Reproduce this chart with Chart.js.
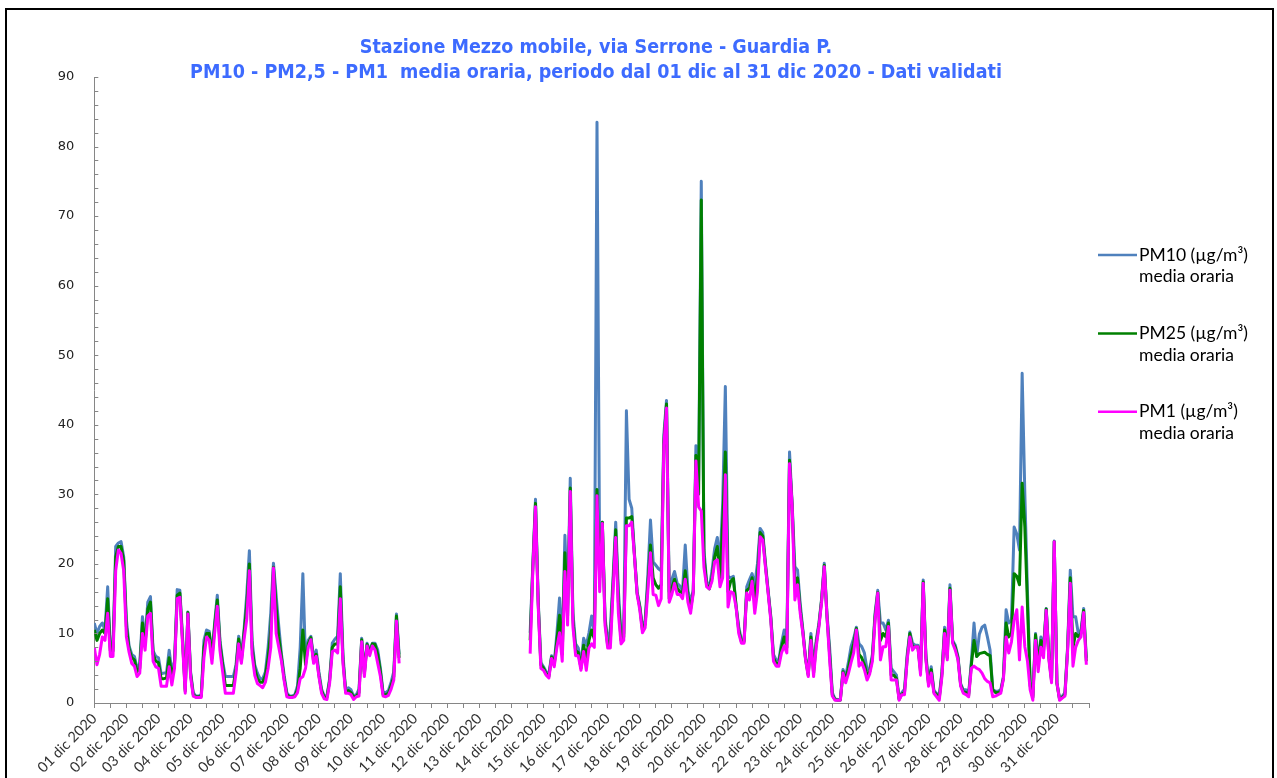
<!DOCTYPE html>
<html><head><meta charset="utf-8">
<script src="https://cdn.jsdelivr.net/npm/chart.js@4/dist/chart.umd.min.js"></script>
<style>
html,body{margin:0;padding:0;background:#fff;overflow:hidden}
#wrap{position:relative;width:1277px;height:778px}
#frame{position:absolute;left:5px;top:8px;width:1269px;height:820px;border:2px solid #000;box-sizing:border-box;pointer-events:none}
canvas{position:absolute;left:0;top:0}
</style></head><body>
<div id="wrap"><canvas id="c" width="1277" height="778"></canvas><div id="frame"></div></div>
<script>
const N = null;
const titleLines = ['Stazione Mezzo mobile, via Serrone - Guardia P.',
  'PM10 - PM2,5 - PM1  media oraria, periodo dal 01 dic al 31 dic 2020 - Dati validati'];
const dayLabels = ['01 dic 2020','02 dic 2020','03 dic 2020','04 dic 2020','05 dic 2020','06 dic 2020','07 dic 2020','08 dic 2020','09 dic 2020','10 dic 2020','11 dic 2020','12 dic 2020','13 dic 2020','14 dic 2020','15 dic 2020','16 dic 2020','17 dic 2020','18 dic 2020','19 dic 2020','20 dic 2020','21 dic 2020','22 dic 2020','23 dic 2020','24 dic 2020','25 dic 2020','26 dic 2020','27 dic 2020','28 dic 2020','29 dic 2020','30 dic 2020','31 dic 2020'];
const seriesNames = ['PM10 (µg/m³)','PM25 (µg/m³)','PM1 (µg/m³)'];
const seriesSub = 'media oraria';
const seriesColors = ['#4F81BD','#008000','#FF00FF'];
// values every 2 hours (12 per day), from 01 dic 00:00
const pm10 = [
11.5,10,11,11.5,10.5,16.7,8,8,22.5,23,23.2,21,
12,8.2,7,6.7,5,5.7,12.4,9,14.5,15.3,7.5,6.7,
6.5,4.2,4.3,4.3,7.6,4.5,6,16.3,16.2,9.5,2,13.1,
4.5,1.5,1,1,1.2,9,10.5,10.3,7,11.5,15.5,9,
6,3.8,3.8,3.8,3.8,5.5,9.6,6.5,10.5,15.5,21.9,9,
5.5,4.3,3.5,3.5,4.5,8,13,20.1,15.5,11,7,4,
1.5,1,1,1.2,2.5,8,18.6,6,9,9.6,6.5,7.6,
4.5,2,1,1,3.5,8.6,9.2,9.6,18.6,7,1.8,2.2,
1.9,1,1.2,2,9.3,4.5,8.6,7.6,8.6,8.6,7.6,5,
1.5,1.5,1.8,3,4.5,12.8,7,N,N,N,N,N,
N,N,N,N,N,N,N,N,N,N,N,N,
N,N,N,N,N,N,N,N,N,N,N,N,
N,N,N,N,N,N,N,N,N,N,N,N,
N,N,N,N,N,N,N,10.1,20,29.3,15,5.8,
5.2,4.5,4.1,6.8,5.7,10,15.1,8,24.1,14,32.3,13,
8.5,7.9,5.5,9.3,8.3,10.1,12.5,10.1,83.5,20,26,12.5,
8.5,10.7,18,26,16.2,10,10,42,29.3,28,21.5,16,
14,11,11.8,18.3,26.3,20.3,19.8,19.3,19,38.6,43.5,16,
17.8,18.9,17.2,16.8,16.2,22.7,16.2,14.5,16.2,37,32,75,
22,17.5,16.5,19,22.2,23.8,20,28.7,45.5,18.2,18,18.2,
14,11,9.1,9,16.7,17.7,18.6,17,20,25.1,24.5,20.1,
16.2,12.5,7,6.2,6.2,8.6,10.5,9,36.1,28.5,19.6,19.1,
14.3,10.5,6.5,4.2,10,5,9.1,11.5,15,20.1,12.9,8,
1.5,0.6,0.5,0.5,4.8,3.8,5.8,8.1,9.3,10.9,8.5,8.1,
7.2,4.8,5,7,13,16.2,11.5,11.5,10.5,11.9,5,4.5,
4,0.6,1.5,2,7,10.2,8.6,8.3,8.3,5,17.7,7,
3,5.2,1.8,1.4,1,4.5,10.9,7,17,9,8.3,6.7,
2.8,1.9,1.9,1.4,6,11.5,6.7,9.9,10.9,11.2,9.5,7.6,
1.9,1.7,1.7,1.9,3.8,13.4,11.5,11.9,25.3,24.3,22,47.4,
30.1,15.8,3,1,10,6,9.5,8,13.6,7,3.5,23.3,
3,0.6,1,1.5,8.1,19.1,12.4,12.4,10,10.5,13.6,6.5
];
const pm25 = [
10.5,9,10,10.5,10,15,7.5,7.5,21,22.5,22.5,20.5,
11,7.8,6.5,6.2,4.5,5,11.5,8.5,13.5,14.5,7,6,
5.8,3.5,3.5,3.6,6.5,3.8,5.5,15.5,15.8,9,1.7,13,
4.2,1.2,0.9,0.9,1,8,10,10,6.5,11,14.8,8.5,
5.5,2.5,2.5,2.5,2.5,5,9.2,6,10,14,20,8,
5,3.5,3,3,4,6.5,10.5,19.5,13.9,9.5,6.5,3.5,
1.2,0.9,0.9,1,2,5,10.5,5.5,8.5,9.4,6,7,
4,1.7,0.8,0.8,3.2,8,8.5,8.5,16.7,6.2,1.6,1.8,
1.5,0.8,1,1.5,9.1,4.2,8.4,7.2,8.5,8.4,7,4.5,
1.2,1.2,1.4,2.5,3.8,12.5,6.5,N,N,N,N,N,
N,N,N,N,N,N,N,N,N,N,N,N,
N,N,N,N,N,N,N,N,N,N,N,N,
N,N,N,N,N,N,N,N,N,N,N,N,
N,N,N,N,N,N,N,9,19.5,28.7,14.5,5.5,
5,4.2,3.8,6.6,5.5,9,12.6,7,21.6,12.5,30.9,12,
7.5,7.3,5,8.3,6.5,9,10.5,9.2,30.7,18,26,12,
8.2,9,17,24.9,14.5,9,9.5,26.6,26.6,26.8,21.3,15.8,
13.8,10.5,11.3,17,22.7,18,17,16.5,17,37.5,43,15,
16.5,17.8,16.5,16,15.8,19,15.5,13.5,16,35.6,30,72.3,
21,17,16.4,18,21,22.5,17.5,26,36.1,16,17.5,17.9,
14,10.5,8.8,8.8,16.2,16.5,18,15,18,24.5,24,19.8,
16,12.2,6.5,5.7,5.7,8,9.5,8,34.9,28.3,17,18,
13.5,10.2,6.3,4,9.5,4.3,8.6,11.2,14.8,19.8,12.5,7,
1.2,0.5,0.4,0.4,4.5,3.3,5,7,8.5,10.7,7,6.5,
5.5,4,4.5,6.5,12.5,15.9,9,10,9.5,11.5,4,4,
3.5,0.5,1.3,1.5,6.5,10,8,8.1,8.1,4.5,17.4,6.5,
2.7,4.8,1.6,1.2,0.7,4.2,10.5,6.5,16.5,8.8,8,6.5,
2.6,1.6,1.5,1.1,5.5,9,6.7,7.1,7.2,7.3,7,6.8,
1.9,1.5,1.5,1.7,3.6,11.5,9.5,10,18.6,18.2,17,31.6,
25.3,14,2.5,0.8,9.8,5.5,9,7.5,13.5,6.5,3.2,23.2,
2.8,0.5,0.8,1.2,7.8,18,8,10,9.5,10,13.3,6
];
const pm1 = [
8,5.5,7,9.5,9,12.9,6.7,6.7,19,22,21.5,19,
9.5,7.3,5.7,5.3,3.8,4.3,10,7.6,12.5,12.9,6,5.2,
5,2.4,2.4,2.4,5.2,2.6,5,15,15.2,8.5,1.4,12.8,
3.8,1,0.8,0.8,0.8,6.5,9.5,9,5.7,10,13.9,7.5,
4.5,1.4,1.4,1.4,1.4,4.3,8.5,5.7,9.1,12,19,7,
4,2.8,2.5,2.2,3,5,8,19.4,10,8,6,3.2,
0.9,0.8,0.8,0.9,1.5,3.5,3.8,5,8,9.1,5.7,6.7,
3.8,1.4,0.6,0.5,2.8,7.4,7.6,7.2,15,5.7,1.4,1.4,
1.2,0.5,0.9,1,8.8,3.8,8.2,6.8,8.2,7.6,5.7,3.8,
1,0.9,1.1,2,3.3,11.8,5.7,N,N,N,N,N,
N,N,N,N,N,N,N,N,N,N,N,N,
N,N,N,N,N,N,N,N,N,N,N,N,
N,N,N,N,N,N,N,N,N,N,N,N,
N,N,N,N,N,N,N,7.1,19,28.2,14,5,
4.7,4,3.6,6.4,5.2,8,10.1,6,18.9,11.2,30.4,11,
6.8,6.8,4.7,7.4,4.7,7.9,8.5,8,29.8,16,25.8,11.2,
7.9,7.9,16,23.8,12.9,8.5,9,25.5,25.5,26,21.1,15.6,
13.4,10.1,10.8,16,21.6,15.6,15.5,14,15,37,42.4,14.5,
15.6,17.2,15.6,15.6,15,17.8,14.5,12.9,15.8,34.8,28.2,27.6,
19.5,16.7,16.4,17.5,20.3,20.6,16.7,18,32.8,13.8,16,15.8,
13.8,10,8.6,8.6,15.8,14.8,17.5,12.9,16,23.9,23.4,19.5,
15.8,11.9,6,5.3,5.3,7.2,8.2,7.2,34.4,28.2,14.8,17,
12.9,10,6.2,3.8,9,3.8,8.1,11,14.5,19.6,12.5,6.2,
1,0.4,0.4,0.4,4.3,2.9,4.2,5.8,7.2,10.5,5.3,5.8,
4.8,3.3,4.2,6,12,15.8,6.2,8.1,8.1,11,3.3,3.3,
3.3,0.4,1.2,1.2,6.2,9.5,7.6,8.1,8.1,4,17.2,6.2,
2.4,4.3,1.4,0.9,0.4,3.8,10,6.2,16.2,8.6,7.6,6.2,
2.4,1.4,1.2,0.9,5,5.3,5,4.8,4.3,3.5,3.1,2.9,
0.9,1,1.2,1.4,3.5,9.5,7.2,8.8,11.9,13.4,6.2,13.8,
8.1,6,1.9,0.4,9,4.5,8,6.5,13.3,6.2,2.9,23.2,
2.9,0.4,0.7,1,7.5,17.2,5.3,8,9,9.5,13,5.5
];

const STEP_H = 2;
const toXY = arr => arr.map((v, i) => ({ x: i * STEP_H, y: v }));

const deco = {
  id: 'deco',
  afterDraw(chart) {
    const ctx = chart.ctx, ys = chart.scales.y, a = chart.chartArea;
    ctx.save();
    // inner y tick marks
    ctx.strokeStyle = '#868686'; ctx.lineWidth = 1;
    for (const t of ys.ticks) {
      const y = Math.round(ys.getPixelForValue(t.value)) + 0.5;
      ctx.beginPath(); ctx.moveTo(a.left, y); ctx.lineTo(a.left + 4, y); ctx.stroke();
    }
    // title
    ctx.fillStyle = '#3D6BFF'; ctx.textAlign = 'center'; ctx.textBaseline = 'middle';
    const fam = '"DejaVu Sans Condensed", "DejaVu Sans", sans-serif';
    ctx.font = 'bold 16px ' + fam;
    let fs = 16 * 812 / ctx.measureText(titleLines[1]).width;
    ctx.font = 'bold ' + fs.toFixed(2) + 'px ' + fam;
    ctx.fillText(titleLines[0], 596, 48);
    ctx.fillText(titleLines[1], 596, 73);
    // legend
    ctx.textAlign = 'left';
    ctx.font = '15px Lato, "Open Sans", sans-serif';
    let ls = 15 * 95 / ctx.measureText(seriesSub).width;
    ctx.font = ls.toFixed(2) + 'px Lato, "Open Sans", sans-serif';
    seriesNames.forEach((name, i) => {
      const y0 = 255 + i * 78.4;
      ctx.strokeStyle = seriesColors[i]; ctx.lineWidth = 2.5;
      ctx.beginPath(); ctx.moveTo(1098, y0); ctx.lineTo(1137, y0); ctx.stroke();
      ctx.fillStyle = '#000';
      ctx.fillText(name, 1139, y0);
      ctx.fillText(seriesSub, 1139, y0 + 21.5);
    });
    ctx.restore();
  }
};

const mkDs = (label, data, color, order) => ({
  label, data: toXY(data), borderColor: color, backgroundColor: color,
  borderWidth: 3, pointRadius: 0, tension: 0, spanGaps: false, order,
  borderJoinStyle: 'round'
});

new Chart(document.getElementById('c'), {
  type: 'line',
  data: { datasets: [
    mkDs(seriesNames[0], pm10, seriesColors[0], 3),
    mkDs(seriesNames[1], pm25, seriesColors[1], 2),
    mkDs(seriesNames[2], pm1, seriesColors[2], 1)
  ]},
  options: {
    responsive: false, animation: false, devicePixelRatio: 1,
    layout: { autoPadding: false, padding: { left: 0, top: 77, right: 188, bottom: 0 } },
    plugins: { legend: { display: false }, title: { display: false }, tooltip: { enabled: false } },
    scales: {
      x: {
        type: 'linear', min: 0, max: 744,
        ticks: { stepSize: 12, autoSkip: false, minRotation: 45, maxRotation: 45, padding: 2,
          color: '#333', font: { family: 'Lato, "Open Sans", sans-serif', size: 14.5 },
          callback: v => (v % 24 === 0 && v / 24 < dayLabels.length) ? dayLabels[v / 24] : '' },
        grid: { drawOnChartArea: false, drawTicks: true, tickLength: 5, color: '#868686' },
        border: { color: '#868686', width: 1 },
        afterFit: s => { s.height = 75; }
      },
      y: {
        min: 0, max: 90,
        ticks: { stepSize: 2, autoSkip: false, padding: 20, color: '#222',
          font: { family: '"DejaVu Sans", sans-serif', size: 13 },
          callback: v => (v % 10 === 0) ? String(v) : '' },
        grid: { drawOnChartArea: false, drawTicks: false },
        border: { color: '#868686', width: 1 },
        afterFit: s => { s.width = 94.3; }
      }
    }
  },
  plugins: [deco]
});
</script>
</body></html>
